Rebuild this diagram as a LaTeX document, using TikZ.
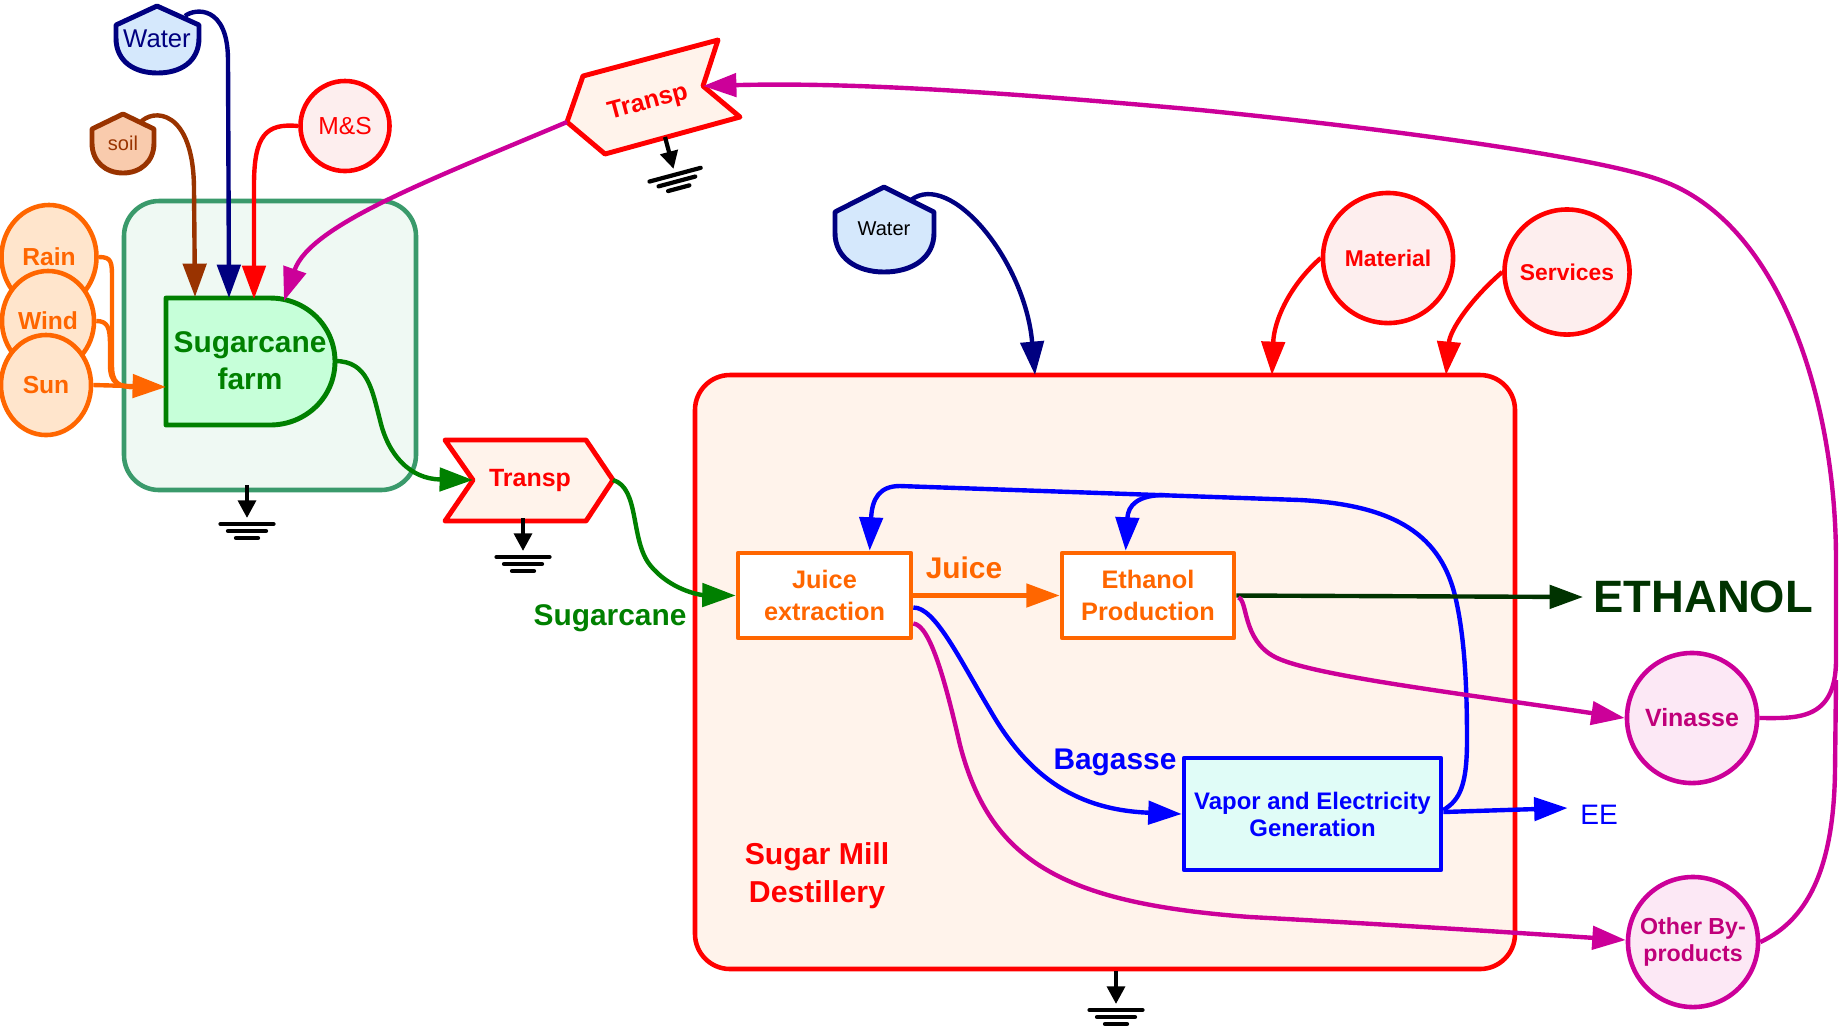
\documentclass[tikz,border=0pt]{standalone}
\usepackage{fontspec}
\setmainfont{Liberation Sans}
\usetikzlibrary{arrows.meta,shapes.geometric,calc}
\definecolor{cOrange}{HTML}{FF6600}
\definecolor{cOrangeFill}{HTML}{FFE5CC}
\definecolor{cFarm}{HTML}{008000}
\definecolor{cFarmFill}{HTML}{C6FFD9}
\definecolor{cBox}{HTML}{3A9A6B}
\definecolor{cBoxFill}{HTML}{EFF9F3}
\definecolor{cRed}{HTML}{FF0000}
\definecolor{cRedFill}{HTML}{FFF3EB}
\definecolor{cPinkFill}{HTML}{FDEEEE}
\definecolor{cNavy}{HTML}{000080}
\definecolor{cWaterFill}{HTML}{D5E8FC}
\definecolor{cBrown}{HTML}{993300}
\definecolor{cSoilFill}{HTML}{F9CBAD}
\definecolor{cMag}{HTML}{CC0099}
\definecolor{cMagFill}{HTML}{FCE8F5}
\definecolor{cMagText}{HTML}{C0007A}
\definecolor{cBlue}{HTML}{0000FF}
\definecolor{cCyanFill}{HTML}{E0FCF7}
\definecolor{cDkGreen}{HTML}{003300}
\newcommand\gndsym[3]{%
  \begin{scope}[shift={(#1,#2)},rotate=#3]
    \draw[gndarr] (0,0) -- (0,33);
    \draw[gndline] (-26.5,39) -- (26.5,39);
    \draw[gndline] (-19,46) -- (19,46);
    \draw[gndline] (-11,53) -- (11,53);
  \end{scope}}
\begin{document}
\begin{tikzpicture}[x=0.01cm,y=-0.01cm,line join=round,
  arr/.style={-{Triangle[length=9.5pt,width=6.6pt]}},
  conn/.style={line width=1.25pt},
  ell/.style={ellipse,inner sep=0pt,line width=1.3pt},
  procbox/.style={rectangle,inner sep=0pt,line width=1.3pt,align=center},
  gndarr/.style={line width=1.2pt,-{Triangle[length=5pt,width=5pt]}},
  gndline/.style={line width=1.2pt,line cap=round},
  lbl/.style={inner sep=0pt,align=center},
]
\useasboundingbox (0,0) rectangle (1839,1029);

% containers
\draw[draw=cBox,fill=cBoxFill,line width=1.3pt,rounded corners=0.35cm] (124,201) rectangle (416,490);
\draw[draw=cRed,fill=cRedFill,line width=1.3pt,rounded corners=0.35cm] (695,375) rectangle (1515,969);

% sugarcane farm (delay shape)
\draw[draw=cFarm,fill=cFarmFill,line width=1.4pt] (166,298) -- (270,298) .. controls (306,298) and (335,326) .. (335,361.5) .. controls (335,397) and (306,425) .. (270,425) -- (166,425) -- cycle;
\node[lbl,text=cFarm,font=\fontsize{8.5}{10.5}\selectfont\bfseries] (farm) at (250,361) {Sugarcane\\farm};

% rain wind sun
\node[ell,draw=cOrange,fill=cOrangeFill,minimum width=0.95cm,minimum height=1.04cm,
  label={[lbl,text=cOrange,font=\fontsize{7}{8}\selectfont\bfseries]center:Rain}] (rain) at (49,257) {};
\node[ell,draw=cOrange,fill=cOrangeFill,minimum width=0.92cm,minimum height=1.0cm,
  label={[lbl,text=cOrange,font=\fontsize{7}{8}\selectfont\bfseries]center:Wind}] (wind) at (48,321) {};
\node[ell,draw=cOrange,fill=cOrangeFill,minimum width=0.90cm,minimum height=1.0cm,
  label={[lbl,text=cOrange,font=\fontsize{7}{8}\selectfont\bfseries]center:Sun}] (sun) at (46,385) {};

% shields
\draw[draw=cNavy,fill=cWaterFill,line width=1.4pt] (116,25) -- (157,6) -- (199,25) -- (199,38) .. controls (199,62) and (180,73) .. (157.5,73) .. controls (135,73) and (116,62) .. (116,38) -- cycle;
\node[lbl,text=cNavy,font=\fontsize{7.3}{8}\selectfont] (water1) at (157,39) {Water};
\draw[draw=cBrown,fill=cSoilFill,line width=1.4pt] (92,129) -- (123,114) -- (154,129) -- (154,143) .. controls (154,162) and (140,173) .. (123,173) .. controls (106,173) and (92,162) .. (92,143) -- cycle;
\node[lbl,text=cBrown,font=\fontsize{5.7}{7}\selectfont] (soil) at (123,143) {soil};
\draw[draw=cNavy,fill=cWaterFill,line width=1.4pt] (835,212) -- (884,187) -- (934,212) -- (934,233) .. controls (934,258) and (912,272) .. (884,272) .. controls (857,272) and (835,258) .. (835,233) -- cycle;
\node[lbl,text=black,font=\fontsize{5.7}{7}\selectfont] (water2) at (884,229) {Water};

% circles
\node[ell,draw=cRed,fill=cPinkFill,minimum width=0.89cm,minimum height=0.9cm,
  label={[lbl,text=cRed,font=\fontsize{7}{8}\selectfont]center:M\&S}] (ms) at (345,126) {};
\node[ell,draw=cRed,fill=cPinkFill,minimum width=1.3cm,minimum height=1.3cm,
  label={[lbl,text=cRed,font=\fontsize{6.5}{8}\selectfont\bfseries]center:Material}] (mat) at (1388,258) {};
\node[ell,draw=cRed,fill=cPinkFill,minimum width=1.25cm,minimum height=1.25cm,
  label={[lbl,text=cRed,font=\fontsize{6.5}{8}\selectfont\bfseries]center:Services}] (serv) at (1567,272) {};
\node[ell,draw=cMag,fill=cMagFill,minimum width=1.3cm,minimum height=1.3cm,
  label={[lbl,text=cMagText,font=\fontsize{7.1}{8.5}\selectfont\bfseries]center:Vinasse}] (vin) at (1692,718) {};
\node[ell,draw=cMag,fill=cMagFill,minimum width=1.3cm,minimum height=1.3cm,
  label={[lbl,text=cMagText,font=\fontsize{6.6}{7.7}\selectfont\bfseries]center:{Other By-\\products}}] (oth) at (1693,942) {};

% transport shapes
\draw[draw=cRed,fill=cRedFill,line width=1.4pt] (445,440) -- (586,440) -- (613,480) -- (586,521) -- (445,521) -- (473,480) -- cycle;
\node[lbl,text=cRed,font=\fontsize{7.1}{8}\selectfont\bfseries] (tr1) at (530,480) {Transp};
\draw[draw=cRed,fill=cRedFill,line width=1.4pt] (583,76) -- (718,40) -- (703,86) -- (740,117) -- (605,154) -- (567,122) -- cycle;
\node[lbl,rotate=15,text=cRed,font=\fontsize{7.1}{8}\selectfont\bfseries] (tr2) at (648,103) {Transp};

% process boxes
\node[procbox,draw=cOrange,fill=white,text=cOrange,font=\fontsize{7.2}{9}\selectfont\bfseries,minimum width=1.73cm,minimum height=0.85cm] (juice) at (824.5,595.5) {Juice\\extraction};
\node[procbox,draw=cOrange,fill=white,text=cOrange,font=\fontsize{7.2}{9}\selectfont\bfseries,minimum width=1.72cm,minimum height=0.85cm] (ethp) at (1148,595.5) {Ethanol\\Production};
\node[procbox,draw=cBlue,fill=cCyanFill,text=cBlue,font=\fontsize{6.8}{7.7}\selectfont\bfseries,minimum width=2.57cm,minimum height=1.12cm] (vapor) at (1312.5,814) {Vapor and Electricity\\Generation};

% labels
\node[lbl,text=cOrange,font=\fontsize{8.5}{10}\selectfont\bfseries] (juicelbl) at (964,568) {Juice};
\node[lbl,text=cFarm,font=\fontsize{8.5}{10}\selectfont\bfseries] (canelbl) at (610,618) {Sugarcane};
\node[lbl,text=cBlue,font=\fontsize{8.5}{10}\selectfont\bfseries] (baglbl) at (1115,762) {Bagasse};
\node[lbl,text=cBlue,font=\fontsize{8}{9}\selectfont] (ee) at (1599,815) {EE};
\node[lbl,anchor=west,text=cDkGreen,font=\fontsize{12.9}{15}\selectfont\bfseries] (eth) at (1593,597) {ETHANOL};
\node[lbl,text=cRed,font=\fontsize{8.6}{10.8}\selectfont\bfseries] (milllbl) at (817,876) {Sugar Mill\\Destillery};

% connection points
\coordinate (soilout) at (140,123);
\coordinate (w1out) at (185,16);
\coordinate (farmA) at (195,297);
\coordinate (farmB) at (229,298);
\coordinate (farmC) at (254,299);
\coordinate (farmD) at (284,301);
\coordinate (farmW) at (166,387);
\coordinate (farmE) at (335,361);
\coordinate (tr1in) at (473,480);
\coordinate (tr1out) at (613,480);
\coordinate (tr2in) at (703,86);
\coordinate (tr2out) at (567,122);
\coordinate (w2out) at (911,200);
\coordinate (millA) at (1035,375);
\coordinate (millB) at (1272,375);
\coordinate (millC) at (1446,375);
\coordinate (bsplit) at (1165,495);

% farm inputs
\draw[conn,draw=cBrown,arr] (soilout) .. controls (152,108) and (194,108) .. (194,190) -- (farmA);
\draw[conn,draw=cNavy,arr] (w1out) .. controls (195,8) and (228,5) .. (228,60) -- (farmB);
\draw[conn,draw=cRed,arr] (ms.west) .. controls (266,123) and (254,135) .. (254,185) -- (farmC);
\draw[conn,draw=cMag,arr] (tr2out) .. controls (430,180) and (310,225) .. (farmD);
\draw[conn,draw=cOrange] (rain.east) .. controls (112,257) and (112,262) .. (112,280) -- (112,365) .. controls (112,383) and (118,387) .. (135,387);
\draw[conn,draw=cOrange] (wind.east) .. controls (108,321) and (110,328) .. (110,345) -- (110,365) .. controls (110,383) and (118,387) .. (135,387);
\draw[conn,draw=cOrange,arr] (sun.east) -- (farmW);

% sugarcane flow
\draw[conn,draw=cFarm,arr] (farmE) .. controls (368,361) and (372,390) .. (380,420) .. controls (388,455) and (410,479) .. (tr1in);
\draw[conn,draw=cFarm,arr] (tr1out) .. controls (640,488) and (630,540) .. (650,565) .. controls (670,590) and (700,595) .. (juice.west);

% mill inputs
\draw[conn,draw=cNavy,arr] (w2out) .. controls (950,170) and (1025,260) .. (millA);
\draw[conn,draw=cRed,arr] (mat.west) .. controls (1290,285) and (1274,320) .. (millB);
\draw[conn,draw=cRed,arr] (serv.west) .. controls (1470,300) and (1450,330) .. (millC);

% inner flows
\draw[conn,draw=cOrange,arr] (juice.east) -- (ethp.west);
\draw[conn,draw=cBlue,arr] ($(juice.east)+(0,12)$) .. controls (935,607) and (960,660) .. (990,710) .. controls (1030,780) and (1080,810) .. (vapor.west);
\draw[conn,draw=cBlue,arr] ($(vapor.east)+(0,-4)$) .. controls (1460,800) and (1467,785) .. (1467,740) .. controls (1467,690) and (1465,640) .. (1456,600) .. controls (1442,535) and (1395,505) .. (1300,500) -- (900,486) .. controls (880,486) and (872,498) .. ($(juice.north west)+(134,0)$);
\draw[conn,draw=cBlue,arr] (bsplit) .. controls (1138,495) and (1128,505) .. ($(ethp.north west)+(66,0)$);
\draw[conn,draw=cDkGreen,arr] (ethp.east) -- ($(eth.west)+(-10,0)$);
\draw[conn,draw=cBlue,arr] ($(vapor.east)+(0,-2)$) -- ($(ee.west)+(-12,-7)$);
\draw[conn,draw=cMag,arr] ($(juice.east)+(0,28)$) .. controls (930,625) and (945,680) .. (960,745) .. controls (990,860) and (1060,903) .. (1250,917) .. controls (1400,925) and (1550,935) .. ($(oth.west)+(0,-2)$);
\draw[conn,draw=cMag,arr] ($(ethp.east)+(2,2)$) .. controls (1248,600) and (1242,640) .. (1275,657) .. controls (1310,675) and (1450,692) .. (vin.west);

% by-products return
\draw[conn,draw=cMag,arr] (vin.east) .. controls (1795,718) and (1836,722) .. (1836,660) -- (1836,560) .. controls (1836,400) and (1780,222) .. (1660,180) .. controls (1600,158) and (1400,130) .. (1200,110) .. controls (1000,92) and (850,82) .. (tr2in);
\draw[conn,draw=cMag] (oth.east) .. controls (1812,918) and (1834,860) .. (1835,770) -- (1836,680);

% grounds
\gndsym{247}{485}{0}
\gndsym{523}{518}{0}
\gndsym{1116}{971}{0}
\gndsym{665}{137}{15}
\end{tikzpicture}
\end{document}
